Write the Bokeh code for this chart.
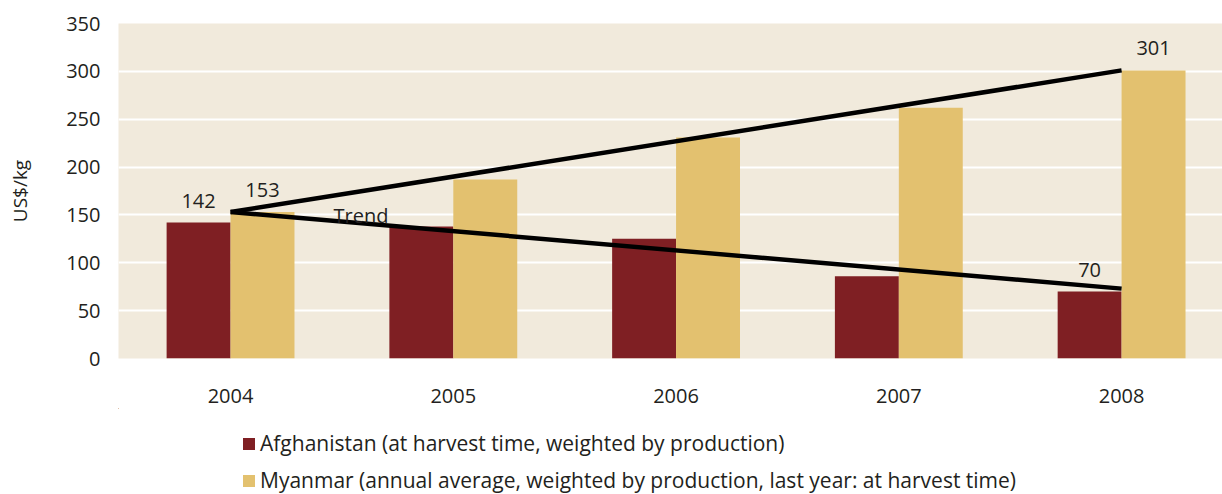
from bokeh.plotting import figure
from bokeh.layouts import column
from bokeh.models import (Range1d, FixedTicker, Legend, LegendItem, ColumnDataSource,
                          LabelSet, Label)
from bokeh.core.properties import value
from bokeh.transform import dodge
from bokeh.embed import file_html
from bokeh.resources import INLINE

# ---- data ----
years = ["2004", "2005", "2006", "2007", "2008"]
afghanistan = [142, 138, 125, 86, 70]
myanmar = [153, 187, 231, 262, 301]
trend_years = ["2004", "2008"]
trend_myanmar = [153, 301]
trend_afghanistan = [153, 73]
y_ticks = [0, 50, 100, 150, 200, 250, 300, 350]
afghan_label = "Afghanistan (at harvest time, weighted by production)"
myanmar_label = "Myanmar (annual average, weighted by production, last year: at harvest time)"

RED = "#7F1F23"
TAN = "#E3C16F"
BG = "#F1EADC"
TXT = "#231F20"
FONT = "Open Sans"
BW = 0.287

idx = list(range(len(years)))
src = ColumnDataSource(dict(x=idx, afg=afghanistan, mya=myanmar))

p = figure(width=1222, height=408, output_backend="svg", toolbar_location=None,
           x_range=Range1d(-0.503, 4.453), y_range=Range1d(0, 350),
           min_border_left=118, min_border_right=0, min_border_top=23,
           min_border_bottom=50)
p.background_fill_color = BG
p.border_fill_color = "white"
p.outline_line_color = None

p.xgrid.grid_line_color = None
p.ygrid.grid_line_color = "white"
p.ygrid.grid_line_width = 2
p.ygrid.ticker = FixedTicker(ticks=y_ticks)

r_afg = p.vbar(x=dodge("x", -BW / 2, range=p.x_range), top="afg", width=BW, source=src,
               fill_color=RED, line_color=None)
r_mya = p.vbar(x=dodge("x", BW / 2, range=p.x_range), top="mya", width=BW, source=src,
               fill_color=TAN, line_color=None)

tx = [years.index(y) for y in trend_years]
p.line(tx, trend_myanmar, line_color="black", line_width=4.5)
p.line(tx, trend_afghanistan, line_color="black", line_width=4.5)

# value labels
lab = ColumnDataSource(dict(
    x=[0 - BW / 2, 0 + BW / 2, 4 - BW / 2, 4 + BW / 2],
    y=[afghanistan[0], myanmar[0], afghanistan[-1], myanmar[-1]],
    t=[str(afghanistan[0]), str(myanmar[0]), str(afghanistan[-1]), str(myanmar[-1])]))
p.add_layout(LabelSet(x="x", y="y", text="t", source=lab, y_offset=15,
                      text_align="center", text_baseline="alphabetic",
                      text_font=value(FONT), text_font_size=value("20px"),
                      text_color=TXT))
p.add_layout(Label(x=0.462, y=149, text="Trend", text_align="left",
                   text_baseline="alphabetic", text_font=FONT,
                   text_font_size="20px", text_color=TXT))

# axes
p.xaxis.ticker = FixedTicker(ticks=idx)
p.xaxis.major_label_overrides = {i: y for i, y in zip(idx, years)}
p.yaxis.ticker = FixedTicker(ticks=y_ticks)
for ax in (p.xaxis[0], p.yaxis[0]):
    ax.axis_line_color = None
    ax.major_tick_line_color = None
    ax.minor_tick_line_color = None
    ax.major_label_text_font = FONT
    ax.major_label_text_font_size = "20px"
    ax.major_label_text_color = TXT
p.xaxis.major_label_standoff = 24
p.yaxis.major_label_standoff = 12
p.yaxis.axis_label = "US$/kg"
p.yaxis.axis_label_text_font = FONT
p.yaxis.axis_label_text_font_size = "19px"
p.yaxis.axis_label_text_font_style = "normal"
p.yaxis.axis_label_text_color = TXT
p.yaxis.axis_label_standoff = 30

# legend strip under the chart (swatches reuse the bar data, kept out of view)
p2 = figure(width=1222, height=86, output_backend="svg", toolbar_location=None,
            x_range=Range1d(100, 101), y_range=Range1d(-2, -1),
            min_border=0)
p2.axis.visible = False
p2.grid.grid_line_color = None
p2.outline_line_color = None
p2.background_fill_color = "white"
g_afg = p2.vbar(x="x", top="afg", width=0.1, source=src, fill_color=RED, line_color=None)
g_mya = p2.vbar(x="x", top="mya", width=0.1, source=src, fill_color=TAN, line_color=None)

legend = Legend(items=[LegendItem(label=afghan_label, renderers=[g_afg]),
                       LegendItem(label=myanmar_label, renderers=[g_mya])],
                orientation="vertical", location=(123, 0),
                glyph_width=15, glyph_height=15, label_standoff=4,
                label_height=20, spacing=9, padding=0, margin=0,
                border_line_color=None, background_fill_alpha=0,
                label_text_font=FONT, label_text_font_size="21px",
                label_text_color=TXT)
p2.add_layout(legend, "center")

open("out.html", "w").write(file_html(column(p, p2, spacing=0), INLINE))
